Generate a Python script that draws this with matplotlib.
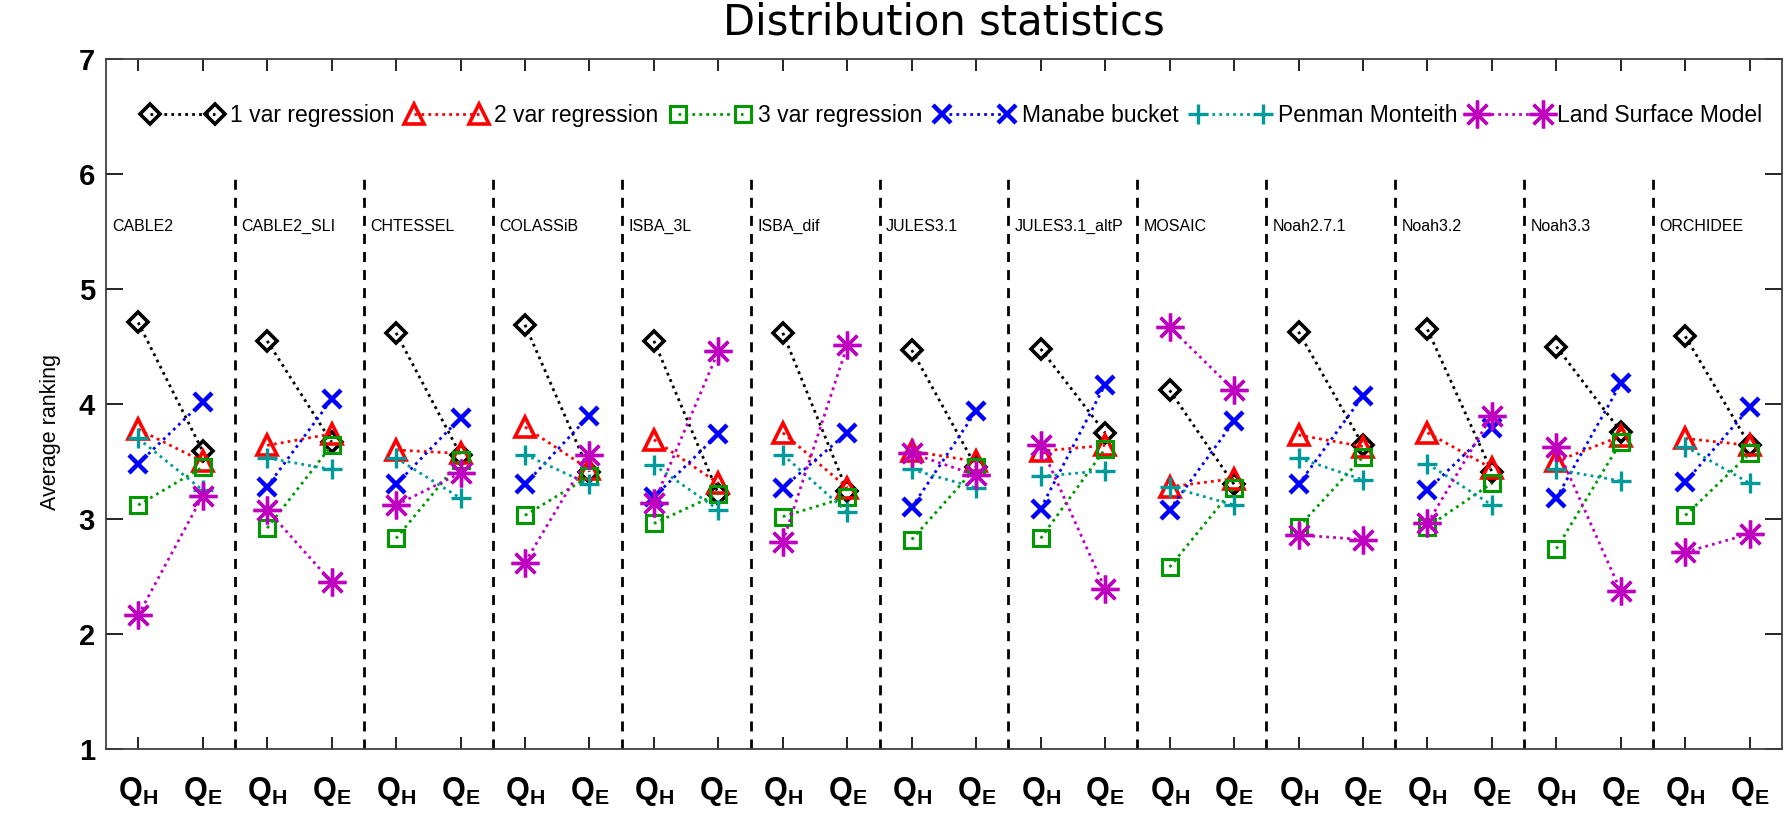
import matplotlib
matplotlib.use("Agg")
import matplotlib.pyplot as plt
import numpy as np

# ---------------- data ----------------
models = ["CABLE2", "CABLE2_SLI", "CHTESSEL", "COLASSiB", "ISBA_3L", "ISBA_dif",
          "JULES3.1", "JULES3.1_altP", "MOSAIC", "Noah2.7.1", "Noah3.2", "Noah3.3",
          "ORCHIDEE"]
flux_labels = [r"$\mathbf{Q_H}$", r"$\mathbf{Q_E}$"]
series_names = ["1 var regression", "2 var regression", "3 var regression",
                "Manabe bucket", "Penman Monteith", "Land Surface Model"]

one_var_qh = [4.71, 4.55, 4.62, 4.69, 4.55, 4.62, 4.47, 4.48, 4.12, 4.63, 4.65, 4.50, 4.59]
one_var_qe = [3.59, 3.67, 3.56, 3.41, 3.22, 3.24, 3.45, 3.75, 3.30, 3.64, 3.41, 3.76, 3.64]
two_var_qh = [3.78, 3.64, 3.60, 3.80, 3.69, 3.75, 3.59, 3.59, 3.28, 3.73, 3.75, 3.50, 3.70]
two_var_qe = [3.50, 3.74, 3.57, 3.43, 3.31, 3.27, 3.50, 3.64, 3.35, 3.63, 3.44, 3.72, 3.64]
three_var_qh = [3.12, 2.92, 2.83, 3.03, 2.96, 3.02, 2.82, 2.83, 2.58, 2.93, 2.93, 2.74, 3.03]
three_var_qe = [3.45, 3.64, 3.51, 3.37, 3.22, 3.19, 3.45, 3.61, 3.27, 3.54, 3.31, 3.67, 3.57]
manabe_qh = [3.48, 3.28, 3.30, 3.30, 3.19, 3.27, 3.10, 3.09, 3.08, 3.30, 3.25, 3.18, 3.32]
manabe_qe = [4.02, 4.04, 3.88, 3.90, 3.74, 3.75, 3.94, 4.17, 3.85, 4.07, 3.79, 4.18, 3.97]
penman_qh = [3.70, 3.53, 3.53, 3.56, 3.47, 3.56, 3.43, 3.37, 3.28, 3.53, 3.48, 3.43, 3.63]
penman_qe = [3.25, 3.43, 3.18, 3.30, 3.08, 3.06, 3.27, 3.42, 3.12, 3.34, 3.12, 3.33, 3.31]
lsm_qh = [2.16, 3.08, 3.12, 2.62, 3.14, 2.80, 3.57, 3.64, 4.67, 2.86, 2.96, 3.63, 2.71]
lsm_qe = [3.20, 2.45, 3.40, 3.56, 4.46, 4.51, 3.38, 2.39, 4.12, 2.82, 3.90, 2.37, 2.87]

series_qh = [one_var_qh, two_var_qh, three_var_qh, manabe_qh, penman_qh, lsm_qh]
series_qe = [one_var_qe, two_var_qe, three_var_qe, manabe_qe, penman_qe, lsm_qe]

# ---------------- styles ----------------
styles = [
    dict(color="black", marker="D", ms=10.5, mew=2.6),
    dict(color="#ff0000", marker="^", ms=14, mew=2.6),
    dict(color="#009a00", marker="s", ms=12, mew=2.2),
    dict(color="#0000ff", marker="x", ms=13, mew=3.2),
    dict(color="#009a9a", marker="+", ms=14, mew=2.4),
    dict(color="#c000c0", marker=(8, 2, 0), ms=20, mew=2.4),
]

plt.rcParams["font.family"] = ["Liberation Sans", "DejaVu Sans"]
plt.rcParams["mathtext.fontset"] = "custom"
plt.rcParams["mathtext.rm"] = "Liberation Sans"
plt.rcParams["mathtext.bf"] = "Liberation Sans:bold"
plt.rcParams["mathtext.it"] = "Liberation Sans:italic"

fig = plt.figure(figsize=(17.87, 8.15), dpi=100)
ax = fig.add_axes([0.0593, 0.0815, 0.9379, 0.8455])

n = len(models)
xq = np.arange(n) * 2.0
xe = xq + 1.0

for name, qh, qe, st in zip(series_names, series_qh, series_qe, styles):
    xs = np.column_stack([xq, xe, np.full(n, np.nan)]).ravel()
    ys = np.column_stack([qh, qe, np.full(n, np.nan)]).ravel()
    ax.plot(xs, ys, linestyle=(0, (1, 1.5)), lw=2.0, color=st["color"],
            marker=st["marker"], ms=st["ms"], mew=st["mew"], mfc="none",
            mec=st["color"], label=name)

# dividers between models
ax.vlines(np.arange(1, n) * 2 - 0.5, 1, 6, colors="black",
          linestyles=(0, (3.6, 2.9)), lw=2.0)

# model labels
for i, m in enumerate(models):
    ax.text(2 * i - 0.5 + 0.1, 5.55, m, fontsize=11.5, ha="left", va="center")

ax.set_xlim(-0.5, 2 * n - 0.5)
ax.set_ylim(1, 7)
ax.set_xticks(np.arange(2 * n))
ax.set_xticklabels(flux_labels * n)
ax.set_yticks(np.arange(1, 8))
ax.tick_params(axis="x", direction="in", length=8.5, width=1.2, top=True,
               bottom=True, pad=19, labelsize=22)
ax.tick_params(axis="y", direction="in", length=12, width=1.2, left=True,
               right=True, pad=8, labelsize=21)
for lab in ax.get_yticklabels():
    lab.set_fontweight("bold")
for sp in ax.spines.values():
    sp.set_linewidth(1.3)
    sp.set_color("#404040")

ax.set_ylabel("Average ranking", fontsize=15.5)
ax.yaxis.set_label_coords(-0.027, 0.46)

ax.legend(loc="center left", bbox_to_anchor=(0.022, (6.51 - 1) / 6), ncol=6,
          frameon=False, numpoints=2, handlelength=3.45, handletextpad=0.35,
          columnspacing=0.55, borderpad=0, borderaxespad=0, fontsize=16.5)

fig.text(0.528, 0.972, "Distribution statistics", ha="center", va="center",
         fontsize=30, family="DejaVu Sans")

fig.savefig("out.png", dpi=100)
